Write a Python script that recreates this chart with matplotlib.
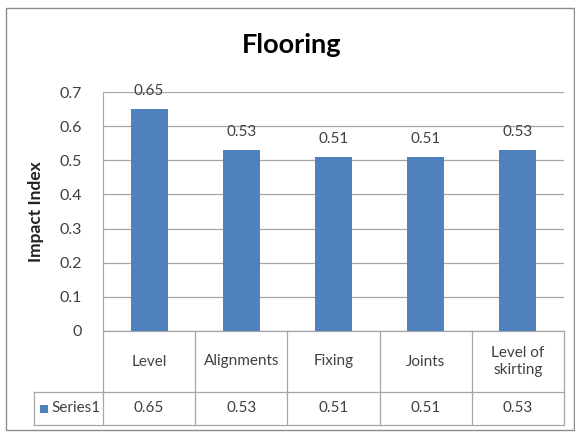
import matplotlib
matplotlib.use("Agg")
import matplotlib.pyplot as plt
import matplotlib.transforms as mtransforms
from matplotlib.lines import Line2D
from matplotlib.patches import Rectangle
import numpy as np

categories = ["Level", "Alignments", "Fixing", "Joints", "Level of\nskirting"]
impact = [0.65, 0.53, 0.51, 0.51, 0.53]
series_name = "Series1"
yticks = [0, 0.1, 0.2, 0.3, 0.4, 0.5, 0.6, 0.7]

plt.rcParams['font.family'] = ['Lato', 'DejaVu Sans']
bar_color = "#4F81BD"
grid_color = "#A6A6A6"
text_color = "#404040"

W, H = 575, 433
fig = plt.figure(figsize=(W / 100, H / 100), dpi=100)

# outer chart border
fig.add_artist(Rectangle((6 / W, 1 - 430 / H), 568 / W, 422 / H, transform=fig.transFigure,
                         fill=False, ec="#8C8C8C", lw=1.0))

left, right, top, bottom = 103, 564, 92, 331
ax = fig.add_axes([left / W, 1 - bottom / H, (right - left) / W, (bottom - top) / H])
x = np.arange(len(categories))
ax.bar(x, impact, width=0.4, color=bar_color, zorder=3)
ax.set_xlim(-0.5, len(categories) - 0.5)
ax.set_ylim(0, 0.7)
ax.set_yticks(yticks)
ax.set_yticklabels([f"{t:g}" for t in yticks], fontsize=11.5, color=text_color)
ax.tick_params(axis='y', length=0, pad=15)
ax.set_xticks([])
ax.grid(axis='y', color=grid_color, lw=0.9, zorder=0)
for s in ['top', 'right', 'bottom']:
    ax.spines[s].set_visible(False)
ax.spines['left'].set_color(grid_color)
ax.set_ylabel("Impact Index", fontsize=12.5, fontweight='bold', color="#222222", labelpad=11)

for xi, v in zip(x, impact):
    ax.text(xi, v + 0.033, f"{v:.2f}", ha='center', va='bottom', fontsize=11, color=text_color)

fig.text(292 / W, 1 - 45 / H, "Flooring", ha='center', va='center',
         fontsize=19.5, fontweight='bold', color="black")

# data table below the plot
trans = mtransforms.blended_transform_factory(ax.transData, ax.transAxes)
ph = bottom - top
row1 = -(392 - bottom) / ph
row2 = -(425 - bottom) / ph
step = (right - left) / len(categories)
x_label_left = -0.5 - (left - 34) / step
x_end = len(categories) - 0.5

def tline(xs, ys):
    ax.add_line(Line2D(xs, ys, transform=trans, color=grid_color, lw=0.9, clip_on=False))

tline([-0.5, x_end], [0, 0])
tline([x_label_left, x_end], [row1, row1])
tline([x_label_left, x_end], [row2, row2])
tline([x_label_left, x_label_left], [row1, row2])
for b in np.arange(-0.5, len(categories), 1.0):
    tline([b, b], [0, row2])

for xi, c, v in zip(x, categories, impact):
    ax.text(xi, row1 / 2, c, transform=trans, ha='center', va='center', fontsize=11,
            color=text_color, linespacing=1.25)
    ax.text(xi, (row1 + row2) / 2, f"{v:.2f}", transform=trans, ha='center', va='center',
            fontsize=11, color=text_color)

# legend key square and series name in the label cell
key = 8
mid_px = (392 + 425) / 2
fig.add_artist(Rectangle((40 / W, 1 - (mid_px + key / 2) / H), key / W, key / H,
                         transform=fig.transFigure, color=bar_color, lw=0))
fig.text(51 / W, 1 - mid_px / H, series_name, ha='left', va='center',
         fontsize=11, color=text_color)

fig.savefig("out.png", dpi=100)
